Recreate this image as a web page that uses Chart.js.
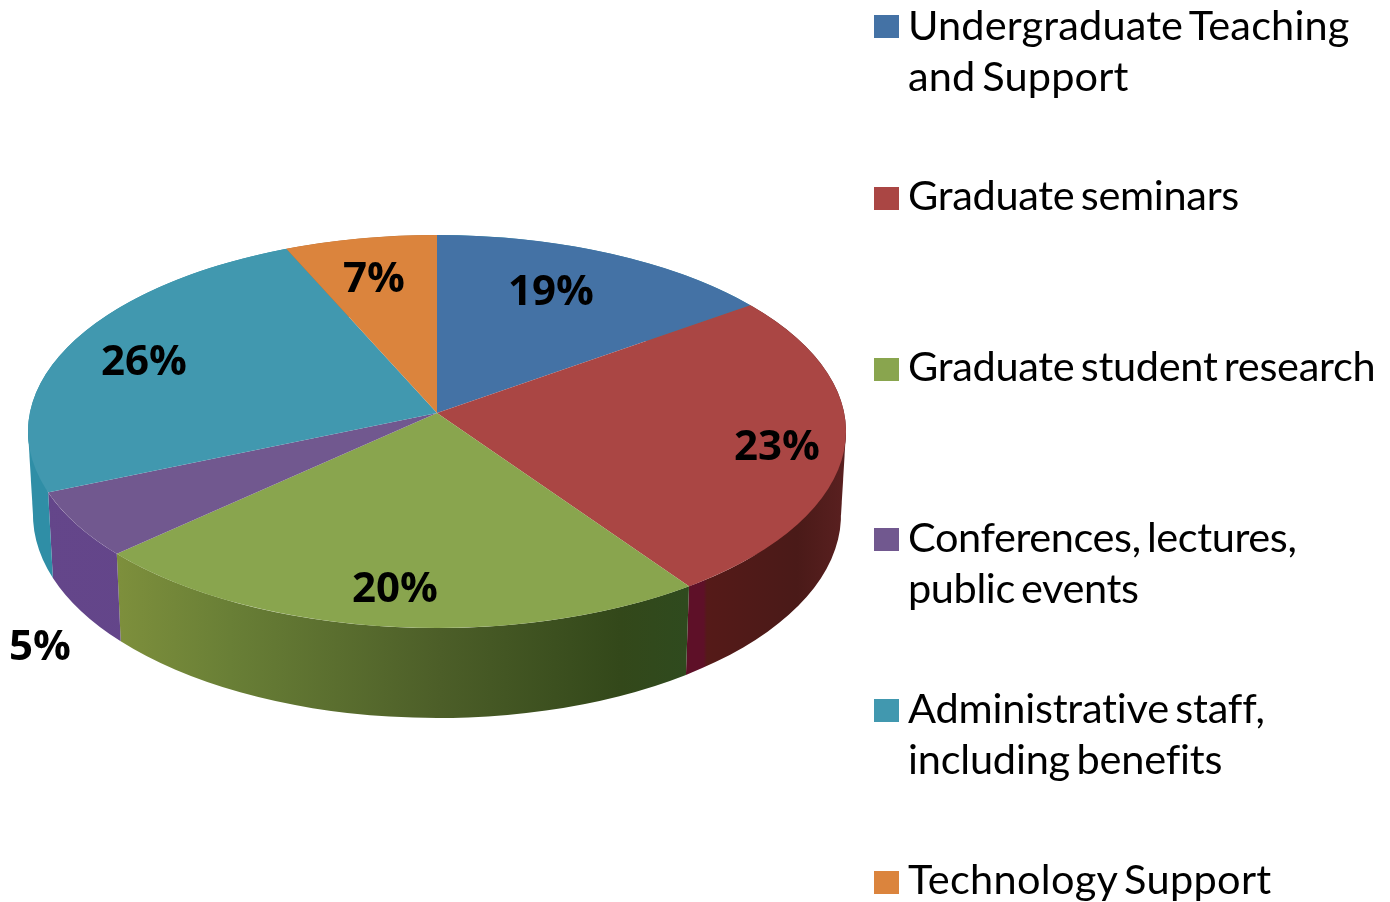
<!DOCTYPE html>
<html>
<head>
<meta charset="utf-8">
<script src="https://cdn.jsdelivr.net/npm/chart.js@4"></script>
<style>
    html, body { margin: 0; padding: 0; background: #fff; }
    #wrap { position: relative; width: 1390px; height: 902px; overflow: hidden; }
    #pie { position: absolute; left: 0; top: 0; }
    .legend-text { position: absolute; left: 908px; font: 41.5px/51px Lato, sans-serif; color: #000; white-space: pre-line; word-spacing: -4px; }
    .swatch { position: absolute; left: 874px; width: 25px; height: 23px; }
    .pct { position: absolute; font: bold 42px/48px "Open Sans", sans-serif; color: #000; transform: translate(-50%, -50%); }
</style>
</head>
<body>
<div id="wrap"><canvas id="pie" width="1390" height="902"></canvas></div>
<script>
const categories = [
    'Undergraduate Teaching\nand Support',
    'Graduate seminars',
    'Graduate student research',
    'Conferences, lectures,\npublic events',
    'Administrative staff,\nincluding benefits',
    'Technology Support'
];
// the percentages printed on the chart
const printedPercents = ['19%', '23%', '20%', '5%', '26%', '7%'];
// wedge sizes as drawn in the picture: the 3D view does not follow the printed numbers
const wedgeShares = [15.1, 25.2, 22.9, 5.4, 24.8, 6.6];
const colors = ['#4472a5', '#aa4644', '#89a54e', '#71588f', '#4198af', '#db843d'];

// Layout of the tilted pie
const apex = { x: 437, y: 413 };
const rim = { x: 437, y: 431.5, rx: 409, ry: 196.5 };
const base = { x: 437, y: 515, rx: 404, ry: 203 };
const scaleX = 1.2;
const scaleY = 0.576;

// side wall colours, stops run from the left to the right end of the rim
const sideStops = [
    [[0, '#2f8ea6'], [1, '#2f8ea6']],
    [[0.804, '#5e1028'], [0.826, '#5e1028'], [0.83, '#551a18'], [0.94, '#4a1a18'], [1, '#5a2020']],
    [[0.112, '#7d8f3c'], [0.247, '#697f36'], [0.504, '#4c5e28'], [0.724, '#33481a'], [0.804, '#2f4a1e']],
    [[0, '#64468a'], [1, '#5f4088']],
    [[0, '#2f8ea6'], [1, '#2f8ea6']],
    [[0, '#b06a30'], [1, '#b06a30']]
];

const legendRows = [
    { swatchTop: 15, textTop: -1, spacing: 0.15 },
    { swatchTop: 187, textTop: 169, spacing: -0.3 },
    { swatchTop: 358, textTop: 340, spacing: -0.3 },
    { swatchTop: 528, textTop: 511, spacing: -0.4 },
    { swatchTop: 699, textTop: 682, spacing: -0.2 },
    { swatchTop: 871, textTop: 853, spacing: 0.3 }
];
const pctCenters = [[551, 289], [777, 444], [395, 586], [40, 644], [144, 359], [374, 276]];

// Where the wedge edge at this angle leaves the tilted ellipse, as an ellipse angle
function rimAngle(angle) {
    const dx = Math.cos(angle) * scaleX;
    const dy = Math.sin(angle) * scaleY;
    const oy = apex.y - rim.y;
    const a = (dx * dx) / (rim.rx * rim.rx) + (dy * dy) / (rim.ry * rim.ry);
    const b = (2 * dy * oy) / (rim.ry * rim.ry);
    const c = (oy * oy) / (rim.ry * rim.ry) - 1;
    const t = (-b + Math.sqrt(b * b - 4 * a * c)) / (2 * a);
    return Math.atan2((oy + t * dy) / rim.ry, (t * dx) / rim.rx);
}

const tiltedPie = {
    id: 'tiltedPie',
    beforeDatasetsDraw(chart) {
        const ctx = chart.ctx;
        const arcs = chart.getDatasetMeta(0).data;

        // side wall first, the top face covers whatever is at the back
        arcs.forEach((arc, i) => {
            const from = rimAngle(arc.startAngle);
            const to = rimAngle(arc.endAngle);
            const grad = ctx.createLinearGradient(rim.x - rim.rx, 0, rim.x + rim.rx, 0);
            sideStops[i].forEach(s => grad.addColorStop(s[0], s[1]));
            ctx.fillStyle = grad;
            ctx.beginPath();
            ctx.ellipse(rim.x, rim.y, rim.rx, rim.ry, 0, from, to);
            ctx.ellipse(base.x, base.y, base.rx, base.ry, 0, to, from, true);
            ctx.closePath();
            ctx.fill();

            // fill the gap between the two ellipses at the far left and right
            const holdsRight = from < 0 && to > 0;
            const holdsLeft = from > 0 && to < 0;
            if (holdsRight || holdsLeft) {
                const side = holdsRight ? 1 : -1;
                const inner = holdsRight ? to : from;
                ctx.beginPath();
                ctx.moveTo(rim.x + side * rim.rx, rim.y);
                ctx.lineTo(base.x + side * base.rx, base.y);
                ctx.lineTo(rim.x + rim.rx * Math.cos(inner), rim.y + rim.ry * Math.sin(inner));
                ctx.closePath();
                ctx.fill();
            }
        });

        // top face: the library's own arcs, squashed and cut to the rim
        const cx = arcs[0].x;
        const cy = arcs[0].y;
        ctx.save();
        ctx.beginPath();
        ctx.ellipse(rim.x, rim.y, rim.rx, rim.ry, 0, 0, Math.PI * 2);
        ctx.clip();
        ctx.translate(apex.x, apex.y);
        ctx.scale(scaleX, scaleY);
        ctx.translate(-cx, -cy);
    },
    afterDatasetsDraw(chart) {
        chart.ctx.restore();
    }
};

new Chart(document.getElementById('pie'), {
    type: 'pie',
    data: {
        labels: categories,
        datasets: [{
            data: wedgeShares,
            backgroundColor: colors,
            borderWidth: 0,
            clip: false
        }]
    },
    options: {
        responsive: false,
        animation: false,
        plugins: {
            legend: { display: false },
            tooltip: { enabled: false }
        }
    },
    plugins: [tiltedPie]
});

// Legend and percent labels as plain text on top of the canvas
const wrap = document.getElementById('wrap');
categories.forEach((name, i) => {
    const box = document.createElement('div');
    box.className = 'swatch';
    box.style.top = legendRows[i].swatchTop + 'px';
    box.style.background = colors[i];
    wrap.appendChild(box);

    const text = document.createElement('div');
    text.className = 'legend-text';
    text.style.top = legendRows[i].textTop + 'px';
    text.style.letterSpacing = legendRows[i].spacing + 'px';
    text.textContent = name;
    wrap.appendChild(text);

    const pct = document.createElement('div');
    pct.className = 'pct';
    pct.style.left = pctCenters[i][0] + 'px';
    pct.style.top = pctCenters[i][1] + 'px';
    pct.textContent = printedPercents[i];
    wrap.appendChild(pct);
});
</script>
</body>
</html>
